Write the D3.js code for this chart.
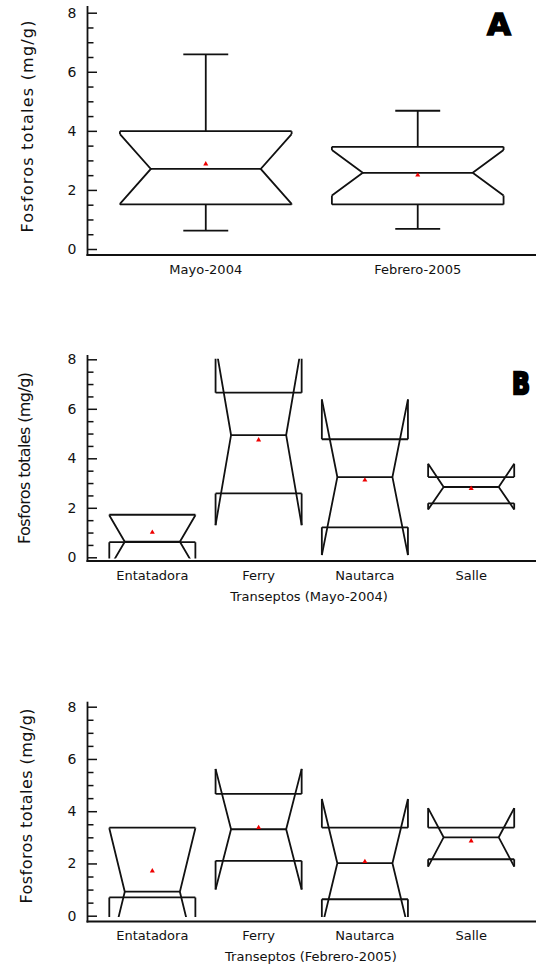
<!DOCTYPE html>
<html><head><meta charset="utf-8">
<script src="https://cdn.jsdelivr.net/npm/d3@7"></script>
<style>body{margin:0;background:#fff}svg{display:block}</style>
</head><body><svg id="c" width="536" height="977"></svg>
<script>
// ---------- data ----------
const periodCats   = ["Mayo-2004", "Febrero-2005"];
const periodQ1     = [1.51, 1.51];
const periodMedian = [2.71, 2.58];
const periodQ3     = [3.99, 3.46];
const periodNotchLo= [1.53, 1.81];
const periodNotchHi= [3.89, 3.35];
const periodWhiskLo= [0.62, 0.68];
const periodWhiskHi= [6.59, 4.68];
const periodMean   = [2.88, 2.50];

const transectCats = ["Entatadora", "Ferry", "Nautarca", "Salle"];
// Mayo-2004
const mayQ1      = [0.61, 2.58, 1.21, 2.18];
const mayMedian  = [0.63, 4.94, 3.24, 2.84];
const mayQ3      = [1.72, 6.65, 4.77, 3.24];
const mayNotchLo = [-0.44, 1.30, 0.09, 1.93];
const mayNotchHi = [1.70, 8.58, 6.38, 3.78];
const mayMean    = [1.01, 4.74, 3.12, 2.78];
// Febrero-2005
const febQ1      = [0.70, 2.10, 0.63, 2.16];
const febMedian  = [0.92, 3.31, 2.01, 3.00];
const febQ3      = [3.37, 4.66, 3.37, 3.37];
const febNotchLo = [-1.51, 1.00, -0.45, 1.88];
const febNotchHi = [3.35, 5.62, 4.47, 4.12];
const febMean    = [1.71, 3.37, 2.07, 2.86];

const yMajorTicks = [0, 2, 4, 6, 8];
const yMinorTicks = [0.5, 1, 1.5, 2.5, 3, 3.5, 4.5, 5, 5.5, 6.5, 7, 7.5];
const yTitle = "Fosforos totales (mg/g)";

// ---------- drawing ----------
const svg = d3.select("#c");
const FONT = "'DejaVu Sans', Verdana, sans-serif";
const AX = 87.5, RIGHT = 536;

function panel(cfg, id) {
  const g = svg.append("g");
  const y = d3.scaleLinear().domain([0, 8]).range([cfg.y0, cfg.y8]);
  const x = d3.scalePoint().domain(cfg.cats).range([AX, RIGHT]).padding(cfg.pad);
  const step = x.step();
  const line = d3.line().x(d => d[0]).y(d => y(d[1]));

  svg.append("clipPath").attr("id", "clip" + id).append("rect")
    .attr("x", AX).attr("y", cfg.y8 - 0.5).attr("width", RIGHT - AX).attr("height", cfg.y0 - cfg.y8 + 1.7);

  const minor = g.append("g").attr("transform", `translate(${AX},0)`)
    .call(d3.axisLeft(y).tickValues(yMinorTicks).tickSize(-6).tickFormat(""));
  minor.select(".domain").remove();
  minor.selectAll("line").attr("stroke", "#111").attr("stroke-width", 1.5);
  const major = g.append("g").attr("transform", `translate(${AX},0)`)
    .call(d3.axisLeft(y).tickValues(yMajorTicks).tickSize(-9.5).tickPadding(11).tickFormat(d3.format("d")));
  major.select(".domain").remove();
  major.selectAll("line").attr("stroke", "#111").attr("stroke-width", 1.5);
  major.selectAll("text").attr("font-family", FONT).attr("font-size", 14).attr("fill", "#111");

  g.append("line").attr("x1", AX).attr("x2", AX).attr("y1", cfg.axTop).attr("y2", cfg.xAxisY + 1)
    .attr("stroke", "#111").attr("stroke-width", 1.8);
  g.append("line").attr("x1", AX - 1).attr("x2", RIGHT).attr("y1", cfg.xAxisY).attr("y2", cfg.xAxisY)
    .attr("stroke", "#111").attr("stroke-width", 1.8);

  const boxes = g.append("g").attr("clip-path", `url(#clip${id})`)
    .attr("fill", "none").attr("stroke", "#111").attr("stroke-width", 1.8);
  cfg.cats.forEach((c, i) => {
    const cx = x(c), hw = 0.405 * step, L = cx - hw, R = cx + hw, ins = 0.36 * hw;
    const q1 = cfg.q1[i], md = cfg.med[i], q3 = cfg.q3[i], nl = cfg.nlo[i], nh = cfg.nhi[i];
    const segs = [
      [[L, q3], [R, q3]],
      [[L, q1], [R, q1]],
      [[L + ins, md], [R - ins, md]],
      [[L, nh], [L + ins, md], [L, nl]],
      [[R, nh], [R - ins, md], [R, nl]],
      [[L, nh], [L, q3]], [[L, q1], [L, nl]],
      [[R, nh], [R, q3]], [[R, q1], [R, nl]]
    ];
    if (cfg.wlo) {
      const cw = 0.106 * step;
      segs.push([[cx, q3], [cx, cfg.whi[i]]], [[cx - cw, cfg.whi[i]], [cx + cw, cfg.whi[i]]],
                [[cx, q1], [cx, cfg.wlo[i]]], [[cx - cw, cfg.wlo[i]], [cx + cw, cfg.wlo[i]]]);
    }
    segs.forEach(s => boxes.append("path").attr("d", line(s)));
    g.append("path").attr("d", d3.symbol(d3.symbolTriangle, 11)())
      .attr("transform", `translate(${cx},${y(cfg.mean[i])})`).attr("fill", "#e00");
  });

  g.selectAll(null).data(cfg.cats).enter().append("text")
    .attr("x", d => x(d)).attr("y", cfg.labelY).attr("text-anchor", "middle")
    .attr("font-family", FONT).attr("font-size", 13).attr("fill", "#111").text(d => d);

  if (cfg.xTitle) {
    g.append("text").attr("x", cfg.xTitleX).attr("y", cfg.xTitleY).attr("text-anchor", "middle")
      .attr("font-family", FONT).attr("font-size", 13).attr("fill", "#111").text(cfg.xTitle);
  }
  g.append("text").attr("transform", `translate(${cfg.yTitleX},${cfg.yTitleCY}) rotate(-90)`)
    .attr("text-anchor", "middle").attr("font-family", FONT).attr("font-size", 16).attr("fill", "#111")
    .attr("textLength", cfg.yTitleLen).attr("lengthAdjust", "spacing").text(yTitle);
}

panel({cats: periodCats, q1: periodQ1, med: periodMedian, q3: periodQ3, nlo: periodNotchLo, nhi: periodNotchHi,
       wlo: periodWhiskLo, whi: periodWhiskHi, mean: periodMean,
       y0: 249, y8: 12.7, xAxisY: 255, axTop: 6, pad: 0.558, labelY: 274,
       yTitleX: 33, yTitleCY: 126.5, yTitleLen: 212}, "A");
panel({cats: transectCats, q1: mayQ1, med: mayMedian, q3: mayQ3, nlo: mayNotchLo, nhi: mayNotchHi, mean: mayMean,
       y0: 557.3, y8: 359.3, xAxisY: 561, axTop: 355, pad: 0.61, labelY: 579.5,
       xTitle: "Transeptos (Mayo-2004)", xTitleX: 309, xTitleY: 601,
       yTitleX: 29.5, yTitleCY: 458, yTitleLen: 172}, "B");
panel({cats: transectCats, q1: febQ1, med: febMedian, q3: febQ3, nlo: febNotchLo, nhi: febNotchHi, mean: febMean,
       y0: 915.7, y8: 706.7, xAxisY: 921.5, axTop: 701.7, pad: 0.61, labelY: 939.5,
       xTitle: "Transeptos (Febrero-2005)", xTitleX: 311, xTitleY: 961,
       yTitleX: 32, yTitleCY: 806, yTitleLen: 195}, "C");

svg.append("text").attr("x", 499).attr("y", 35).attr("text-anchor", "middle")
  .attr("font-family", FONT).attr("font-weight", "bold").attr("font-size", 31)
  .attr("fill", "#000").attr("stroke", "#000").attr("stroke-width", 1.5).text("A");
svg.append("text").attr("x", 512).attr("y", 394).attr("text-anchor", "start")
  .attr("font-family", FONT).attr("font-weight", "bold").attr("font-size", 30)
  .attr("textLength", 18).attr("lengthAdjust", "spacingAndGlyphs")
  .attr("fill", "#000").attr("stroke", "#000").attr("stroke-width", 2.5).text("B");
</script></body></html>
